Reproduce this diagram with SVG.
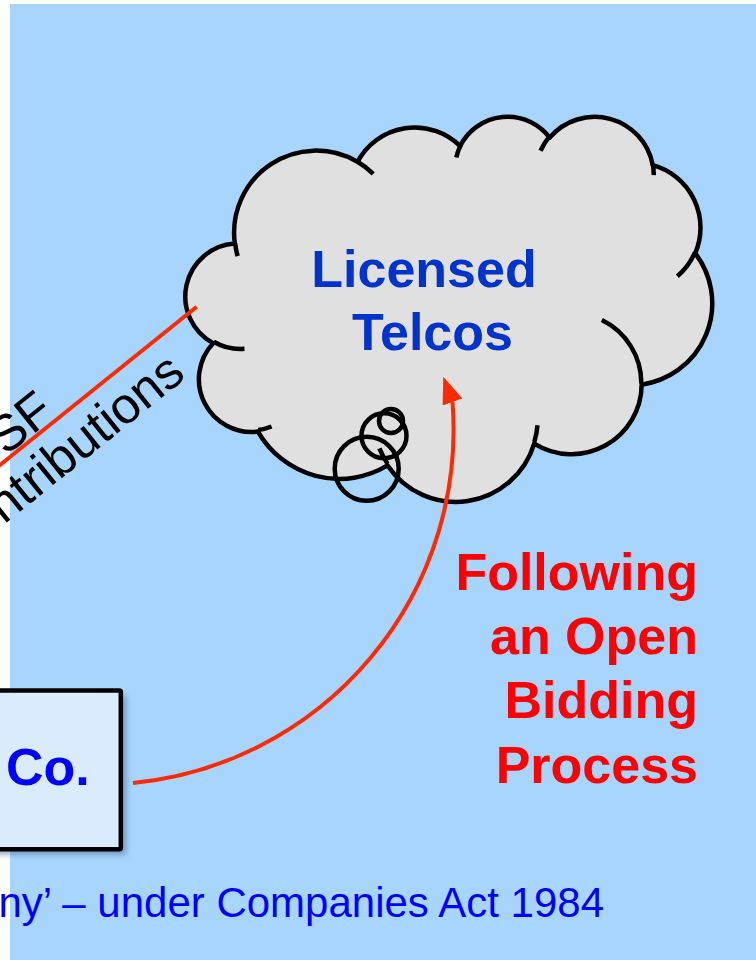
<svg xmlns="http://www.w3.org/2000/svg" width="756" height="960" viewBox="0 0 756 960">
  <style>
    .bg { fill: #A7D5FE; }
    .cloud { fill: #E0E0E0; stroke: #000; stroke-width: 4.5; stroke-linejoin: round; }
    .inner { fill: none; stroke: #000; stroke-width: 4.5; }
    .bubble { fill: none; stroke: #000; stroke-width: 4.5; }
    .conn { fill: none; stroke: #FF2A00; stroke-width: 4; }
    .cloudtxt { font-family: "Liberation Sans", Arial, sans-serif; font-weight: bold; font-size: 52px; fill: #0033CC; text-anchor: middle; }
    .redtxt { font-family: "Liberation Sans", Arial, sans-serif; font-weight: bold; font-size: 52px; fill: #FF0000; text-anchor: end; }
    .boxtxt { font-family: "Liberation Sans", Arial, sans-serif; font-weight: bold; font-size: 52px; fill: #0000FF; }
    .foot { font-family: "Liberation Sans", Arial, sans-serif; font-size: 42px; fill: #0000FF; text-anchor: end; }
    .rot { font-family: "Liberation Sans", Arial, sans-serif; font-size: 51px; fill: #000; text-anchor: end; }
  </style>
  <defs>
    <marker id="arrow" markerUnits="userSpaceOnUse" markerWidth="27" markerHeight="21" viewBox="0 0 27 21" refX="0" refY="10.5" orient="-110">
      <path d="M0,0 L27,10.5 L0,21 Z" fill="#FF2A00"/>
    </marker>
    <filter id="shadow" x="-20%" y="-20%" width="140%" height="140%">
      <feGaussianBlur stdDeviation="3"/>
    </filter>
  </defs>

  <g id="background">
    <rect x="0" y="0" width="756" height="960" fill="#FFFFFF"/>
    <rect class="bg" x="10" y="4" width="746" height="956"/>
  </g>

  <g id="label-usf" transform="translate(0,465) rotate(-38.83)">
    <text class="rot" x="75" y="-3">SF</text>
    <text class="rot" x="201" y="49">ntributions</text>
  </g>

  <g id="licensed-telcos">
    <path class="cloud" d="M234.85,243.57 A81.99,81.90 0 0 1 357.54,161.86 A64.75,64.76 0 0 1 460.15,146.09 A53.00,52.98 0 0 1 549.72,137.61 A58.97,58.77 0 0 1 652.74,165.20 A64.75,64.82 0 0 1 695.24,253.28 A82.26,82.17 0 0 1 641.64,384.66 A70.24,70.11 0 0 1 534.21,443.57 A81.98,82.12 0 0 1 387.61,465.44 A93.73,93.96 0 0 1 257.99,431.60 A52.93,52.74 0 0 1 213.17,343.18 A52.75,52.98 0 0 1 234.85,243.57 Z"/>
    <path class="inner" d="M244.48,348.79 A52.75,52.98 0 0 1 213.72,341.69 M271.61,426.52 A52.93,52.74 0 0 1 258.16,429.92 M387.56,463.87 A81.98,82.12 0 0 1 379.44,448.34 M537.49,425.20 A81.98,82.12 0 0 1 534.25,442.22 M601.86,320.07 A70.24,70.11 0 0 1 641.33,383.66 M694.97,252.34 A64.75,64.82 0 0 1 677.38,276.19 M652.79,163.86 A58.97,58.77 0 0 1 653.72,175.12 M540.54,150.72 A58.97,58.77 0 0 1 549.55,136.35 M456.31,157.56 A53.00,52.98 0 0 1 460.67,145.18 M357.47,161.77 A81.99,81.90 0 0 1 373.24,173.77 M237.61,256.21 A81.99,81.90 0 0 1 235.18,243.47"/>
    <circle class="bubble" cx="366.7" cy="468.7" r="32"/>
    <circle class="bubble" cx="384" cy="435.7" r="22.5"/>
    <circle class="bubble" cx="391" cy="421" r="12"/>
    <text class="cloudtxt" x="424" y="287">Licensed</text>
    <text class="cloudtxt" x="432.5" y="350">Telcos</text>
  </g>

  <g id="company-box">
    <rect x="-15" y="695.5" width="140.8" height="158.7" fill="#3A5A80" opacity="0.55" filter="url(#shadow)"/>
    <rect x="-20" y="690.5" width="140.8" height="158.7" rx="1.5" fill="#DAEBFD" stroke="#000" stroke-width="4.5"/>
    <text class="boxtxt" x="6" y="785">Co.</text>
  </g>

  <g id="connectors">
    <line class="conn" x1="-10" y1="473" x2="196.7" y2="306.7" stroke-width="4.5"/>
    <path class="conn" d="M133,783 A355,355 0 0 0 452.5,402" marker-end="url(#arrow)"/>
  </g>

  <g id="label-bidding">
    <text class="redtxt" x="698" y="590">Following</text>
    <text class="redtxt" x="698" y="654">an Open</text>
    <text class="redtxt" x="698" y="718">Bidding</text>
    <text class="redtxt" x="698" y="783">Process</text>
  </g>

  <g id="footer">
    <text class="foot" x="604" y="917">ny’ – under Companies Act 1984</text>
  </g>
</svg>
